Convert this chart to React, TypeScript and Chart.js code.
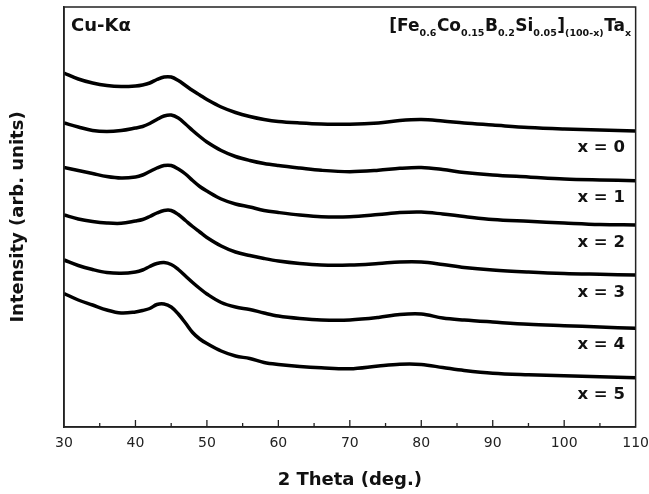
import React, { useEffect, useRef } from "react";
import { Chart, registerables } from "chart.js";

Chart.register(...registerables);

// 2-theta sample positions (deg.)
const twoTheta = [30, 32, 34, 36, 38, 40, 41, 42, 43, 44, 45, 46, 47, 48, 49, 50, 52, 54, 56, 58, 60, 63, 66, 70, 74, 77, 80, 83, 86, 90, 95, 100, 105, 110];

// Intensities (arb. units, stacked)
const x0 = [354, 348, 344, 341.5, 340.5, 341, 342, 344, 347.5, 350, 350, 346.5, 341.5, 336.5, 332, 327.5, 320, 314.5, 310.5, 307.5, 305.5, 304, 303, 302.7, 304, 306.5, 307.5, 306, 304, 302, 299.5, 298, 297, 296];
const x1 = [304, 300, 296.5, 295.5, 296.5, 299, 300.5, 303.5, 307.5, 311, 312, 309, 303, 296.5, 290.5, 285, 276.5, 270.5, 266.5, 263.5, 261.5, 259, 256.7, 255.3, 256.7, 258.7, 259.5, 257.5, 254.5, 252, 250, 248, 247, 246.3];
const x2 = [259.5, 256.5, 253.5, 250.5, 249, 250, 252, 255.5, 259, 261.5, 261.5, 258, 253, 246.5, 240.5, 236, 228, 223, 220, 216.5, 214.5, 212, 210.3, 210.3, 212.5, 214.5, 215, 213, 210.5, 207.5, 205.7, 204, 202.5, 202];
const x3 = [212, 208, 205.5, 204, 203.7, 206, 207.5, 210.5, 214, 216.5, 216.5, 212.5, 206.5, 200.5, 195, 189.5, 181, 175, 171.5, 168.5, 166, 163.5, 162, 162, 163.5, 165, 165, 162.5, 159.5, 157, 155, 153.5, 152.7, 152];
const x4 = [167, 161.5, 157.5, 154.5, 153.7, 155, 157, 160.5, 163.5, 164.5, 162.5, 157.5, 151, 144.5, 138.5, 133, 124.5, 120, 117.5, 114, 111, 108.5, 107, 107, 109.5, 112.5, 113, 109, 107, 105, 102.7, 101.3, 100, 98.7];
const x5 = [133.5, 127, 122, 117, 114, 115, 116.5, 118.5, 122.5, 123, 120, 113, 104, 94.5, 88, 83.5, 76, 71, 68.5, 64.5, 62.5, 60.5, 59.2, 58.2, 61, 62.7, 62.5, 59.5, 56.5, 53.7, 52.2, 51.2, 50.2, 49.3];

const seriesList = [x0, x1, x2, x3, x4, x5];
const seriesNames = ["x = 0", "x = 1", "x = 2", "x = 3", "x = 4", "x = 5"];
// label anchor intensities (one per curve)
const labelLevels = [279, 229, 184, 134, 82, 32];
const labelAt2Theta = 108.5;

const xTickMin = 30;
const xTickMax = 110;

const FONT = "'DejaVu Sans', Verdana, sans-serif";

const decorPlugin = {
  id: "decor",
  afterDraw(chart: any) {
    const { ctx, chartArea } = chart;
    const xs = chart.scales.x;
    const ys = chart.scales.y;
    ctx.save();
    // frame
    ctx.strokeStyle = "#222";
    ctx.lineWidth = 1.5;
    ctx.strokeRect(chartArea.left, chartArea.top, chartArea.right - chartArea.left, chartArea.bottom - chartArea.top);
    // inward ticks
    ctx.lineWidth = 1.3;
    for (let v = xTickMin + 5; v < xTickMax; v += 5) {
      const px = xs.getPixelForValue(v);
      const len = v % 10 === 0 ? 7 : 4;
      ctx.beginPath();
      ctx.moveTo(px, chartArea.bottom);
      ctx.lineTo(px, chartArea.bottom - len);
      ctx.stroke();
    }
    // curve labels
    ctx.fillStyle = "#111";
    ctx.font = `bold 16.5px ${FONT}`;
    ctx.textAlign = "right";
    ctx.textBaseline = "middle";
    seriesNames.forEach((n, i) => {
      ctx.fillText(n, xs.getPixelForValue(labelAt2Theta), ys.getPixelForValue(labelLevels[i]));
    });
    // Cu-Ka
    ctx.textAlign = "left";
    ctx.textBaseline = "alphabetic";
    const baseY = chartArea.top + 24;
    ctx.font = `bold 18px ${FONT}`;
    ctx.fillText("Cu-K\u03B1", chartArea.left + 7, baseY);
    // formula
    const parts: [string, boolean][] = [
      ["[Fe", false], ["0.6", true], ["Co", false], ["0.15", true], ["B", false], ["0.2", true],
      ["Si", false], ["0.05", true], ["]", false], ["(100-x)", true], ["Ta", false], ["x", true],
    ];
    const bigF = `bold 17px ${FONT}`;
    const smallF = `bold 9.5px ${FONT}`;
    let total = 0;
    parts.forEach(([t, s]) => {
      ctx.font = s ? smallF : bigF;
      total += ctx.measureText(t).width + (s ? 0.5 : 0);
    });
    let cx = chartArea.right - 4 - total;
    parts.forEach(([t, s]) => {
      ctx.font = s ? smallF : bigF;
      ctx.fillText(t, cx, s ? baseY + 5 : baseY);
      cx += ctx.measureText(t).width + (s ? 0.5 : 0);
    });
    ctx.restore();
  },
};

export default function App() {
  const ref = useRef<HTMLCanvasElement | null>(null);
  useEffect(() => {
    document.body.style.margin = "0";
    const canvas = ref.current;
    if (!canvas) return;
    const chart = new Chart(canvas, {
      type: "line",
      data: {
        datasets: seriesList.map((vals, i) => ({
          label: seriesNames[i],
          data: twoTheta.map((t, j) => ({ x: t, y: vals[j] })),
          borderColor: "#000",
          borderWidth: 3.5,
          pointRadius: 0,
          fill: false,
          tension: 0.35,
        })),
      },
      options: {
        animation: false,
        responsive: false,
        layout: { padding: { top: 7, right: 13, left: 0, bottom: 0 } },
        plugins: { legend: { display: false }, tooltip: { enabled: false } },
        scales: {
          x: {
            type: "linear",
            min: xTickMin,
            max: xTickMax,
            grid: { display: true, drawOnChartArea: false, drawTicks: true, tickLength: 7.6, color: "rgba(0,0,0,0)" },
            border: { display: true, color: "#222", width: 1.5 },
            ticks: { stepSize: 10, padding: 0, color: "#222", font: { family: FONT, size: 14 } },
            title: {
              display: true,
              text: "2 Theta (deg.)",
              color: "#111",
              font: { family: FONT, size: 18, weight: "bold" },
              padding: { top: 17.8, bottom: 3.2 },
            },
          },
          y: {
            min: 0,
            max: 420,
            grid: { display: false, drawTicks: false },
            border: { display: true, color: "#222", width: 1.5 },
            ticks: { display: false },
            title: {
              display: true,
              text: "Intensity (arb. units)",
              color: "#111",
              font: { family: FONT, size: 18, weight: "bold" },
              padding: { top: 7.2, bottom: 35.2 },
            },
          },
        },
      },
      plugins: [decorPlugin],
    });
    return () => chart.destroy();
  }, []);
  return (
    <div style={{ width: 649, height: 494 }}>
      <canvas ref={ref} width={649} height={494} style={{ display: "block" }} />
    </div>
  );
}
